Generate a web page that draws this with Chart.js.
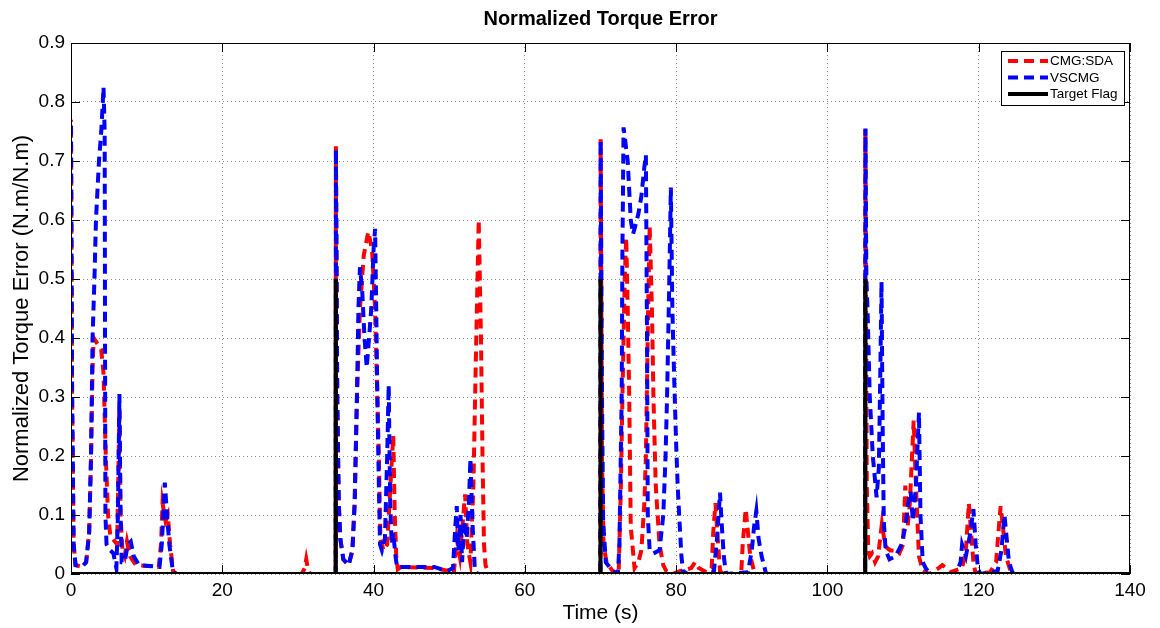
<!DOCTYPE html>
<html>
<head>
<meta charset="utf-8">
<title>Normalized Torque Error</title>
<script src="https://cdn.jsdelivr.net/npm/chart.js@4.4.1/dist/chart.umd.min.js"></script>
<style>
    html, body { margin: 0; padding: 0; background: #fff; }
    #wrap { width: 1160px; height: 628px; }
</style>
</head>
<body>
<div id="wrap"><canvas id="torqueChart" width="1160" height="628"></canvas></div>
<script>
// CMG:SDA - time (s) and normalized error
const sdaTime = [
    0, 0.15, 0.35, 0.6, 1.5, 2.0, 2.4, 2.65, 2.85, 3.0, 3.5, 4.0, 4.3, 4.6, 4.9, 5.2, 5.8, 6.1, 6.3, 6.4,
    6.55, 6.8, 7.1, 7.4, 7.8, 8.6, 11.6, 11.9, 12.1, 12.5, 12.8, 13.1, 13.5, 14, 30.5, 30.9, 31.1, 31.3, 31.6,
    34.98, 35.02, 35.2, 35.4, 35.6, 36.0, 36.7, 37.2, 37.5, 37.8, 38.2, 38.7, 39.3, 39.8, 40.2, 40.4, 40.7,
    40.9, 41.3, 41.8, 42.1, 42.6, 42.8, 43.0, 43.2, 43.6, 48, 50, 50.6, 51.0, 51.4, 51.8, 52.1, 52.4, 52.8,
    53.2, 53.5, 53.9, 54.2, 54.4, 54.6, 54.8, 55.2,
    69.98, 70.02, 70.2, 70.4, 70.8, 71.6, 72.4, 72.7, 72.9, 73.2, 73.4, 73.6, 73.8, 74.0, 74.5, 75.0, 75.4,
    75.8, 76.0, 76.3, 76.5, 76.8, 77.0, 77.3, 77.8, 78.3, 78.7, 79.5, 80.5, 82.0, 82.5, 83.0, 84.0, 84.7,
    84.9, 85.2, 85.5, 85.8, 86.2, 88.6, 88.8, 89.2, 89.5, 89.8, 90.4,
    104.98, 105.02, 105.2, 105.4, 105.6, 105.9, 106.3, 106.7, 107.2, 107.5, 107.8, 108.3, 108.8, 109.5,
    110.0, 110.3, 110.6, 110.9, 111.4, 111.7, 112.1, 112.6, 113.5, 114.7, 115.2, 115.7, 116.3, 117.8,
    118.3, 118.7, 119.0, 119.3, 119.6, 121.5, 122.3, 122.6, 122.9, 123.2, 123.6, 124.2, 124.6, 140
];
const sdaError = [
    0.77, 0.3, 0.05, 0.015, 0.012, 0.02, 0.07, 0.2, 0.35, 0.40, 0.39, 0.38, 0.34, 0.2, 0.1, 0.065, 0.055, 0.05, 0.2, 0.28,
    0.1, 0.04, 0.03, 0.055, 0.03, 0.015, 0.012, 0.05, 0.12, 0.09, 0.1, 0.05, 0.005, 0, 0, 0.01, 0.025, 0.01, 0,
    0, 0.725, 0.3, 0.12, 0.06, 0.025, 0.015, 0.04, 0.12, 0.3, 0.45, 0.54, 0.58, 0.55, 0.45, 0.35, 0.2,
    0.06, 0.04, 0.05, 0.12, 0.235, 0.1, 0.03, 0.008, 0.012, 0.01, 0.005, 0, 0.06, 0.03, 0.09, 0.135, 0.05, 0.02,
    0.15, 0.35, 0.6, 0.4, 0.2, 0.05, 0.015, 0,
    0, 0.737, 0.2, 0.05, 0.02, 0.005, 0, 0.15, 0.3, 0.5, 0.57, 0.45, 0.3, 0.08, 0.01, 0.02, 0.04,
    0.12, 0.2, 0.45, 0.59, 0.45, 0.3, 0.15, 0.05, 0.015, 0.005, 0, 0.005, 0.01, 0.02, 0.01, 0.003, 0.01,
    0.07, 0.12, 0.06, 0.005, 0, 0, 0.05, 0.11, 0.07, 0.03, 0,
    0, 0.754, 0.15, 0.04, 0.03, 0.035, 0.02, 0.03, 0.085, 0.06, 0.045, 0.04, 0.04, 0.035,
    0.05, 0.15, 0.08, 0.12, 0.26, 0.15, 0.03, 0.005, 0, 0.01, 0.015, 0.01, 0.003, 0.01,
    0.04, 0.12, 0.07, 0.02, 0, 0.003, 0.02, 0.07, 0.115, 0.08, 0.03, 0.005, 0, 0
];

// VSCMG - time (s) and normalized error
const vscmgTime = [
    0, 0.15, 0.35, 0.6, 1.5, 2.0, 2.4, 2.65, 2.85, 3.1, 3.3, 3.7, 4.0, 4.3, 4.45, 4.5, 4.55, 4.7, 5.2, 5.6,
    6.0, 6.2, 6.4, 6.55, 6.7, 7.1, 7.5, 7.9, 8.3, 9.0, 11.7, 12.0, 12.2, 12.4, 12.7, 13.0, 13.5, 14,
    34.98, 35.02, 35.2, 35.4, 35.6, 36.0, 36.7, 37.2, 37.5, 37.8, 38.0, 38.2, 38.5, 38.8, 39.1, 39.4, 39.7,
    40.0, 40.2, 40.35, 40.5, 40.7, 40.85, 41.1, 41.5, 41.8, 42.0, 42.2, 42.4, 42.6, 42.9, 43.1, 48, 49.7,
    50.5, 50.8, 51.0, 51.2, 51.5, 51.7, 52.0, 52.3, 52.6, 52.8, 53.1, 53.4, 53.8,
    69.98, 70.02, 70.2, 70.35, 70.7, 71.6, 72.3, 72.5, 72.8, 72.9, 73.05, 73.4, 73.6, 74.0, 74.3, 74.6, 75.0,
    75.4, 75.8, 76.0, 76.15, 76.25, 76.5, 77.0, 77.8, 78.3, 78.6, 78.8, 79.1, 79.3, 79.5, 79.7, 80.0, 80.2,
    80.4, 80.7, 80.9, 81.5, 84.5, 85.0, 85.4, 85.8, 86.0, 86.3, 86.6, 89.5, 90.0, 90.3, 90.6, 90.9, 91.3, 91.9,
    104.98, 105.02, 105.15, 105.3, 105.6, 106.0, 106.5, 106.8, 107.0, 107.15, 107.3, 107.45, 107.7, 108.2,
    109.0, 109.8, 110.3, 110.7, 111.0, 111.3, 111.7, 112.1, 112.3, 112.6, 113.0, 113.6, 117.0, 117.6, 117.8,
    118.3, 118.9, 119.3, 119.6, 119.9, 120.2, 122.5, 123.0, 123.4, 123.7, 124.0, 124.4, 124.6, 140
];
const vscmgError = [
    0.76, 0.3, 0.05, 0.015, 0.013, 0.02, 0.07, 0.2, 0.4, 0.5, 0.6, 0.7, 0.75, 0.825, 0.75, 0.4, 0.1, 0.05, 0.04, 0.035,
    0.01, 0.1, 0.305, 0.1, 0.02, 0.02, 0.05, 0.055, 0.03, 0.015, 0.012, 0.05, 0.1, 0.155, 0.1, 0.05, 0.002, 0,
    0, 0.72, 0.3, 0.12, 0.06, 0.025, 0.015, 0.04, 0.12, 0.3, 0.45, 0.52, 0.48, 0.4, 0.35, 0.4, 0.45,
    0.55, 0.585, 0.45, 0.3, 0.15, 0.05, 0.04, 0.06, 0.2, 0.32, 0.12, 0.05, 0.07, 0.03, 0.012, 0.012, 0.005,
    0.01, 0.08, 0.115, 0.04, 0.1, 0.02, 0.09, 0.06, 0.12, 0.195, 0.08, 0.005, 0,
    0, 0.735, 0.3, 0.09, 0.02, 0.005, 0, 0.05, 0.3, 0.55, 0.757, 0.72, 0.7, 0.6, 0.576, 0.59, 0.61,
    0.64, 0.69, 0.71, 0.4, 0.1, 0.04, 0.035, 0.04, 0.1, 0.2, 0.3, 0.5, 0.655, 0.45, 0.35, 0.22, 0.15,
    0.1, 0.03, 0.005, 0, 0, 0.005, 0.06, 0.138, 0.09, 0.03, 0, 0.003, 0.04, 0.08, 0.107, 0.06, 0.03, 0,
    0, 0.755, 0.5, 0.45, 0.3, 0.2, 0.13, 0.18, 0.35, 0.495, 0.25, 0.09, 0.04, 0.025,
    0.03, 0.05, 0.08, 0.12, 0.14, 0.09, 0.15, 0.274, 0.1, 0.02, 0.01, 0, 0, 0.02, 0.05,
    0.03, 0.07, 0.11, 0.05, 0.01, 0, 0.005, 0.04, 0.1, 0.06, 0.02, 0.005, 0, 0
];

// Target flag pulses
const flagTime = [0, 35, 35, 35, 70, 70, 70, 105, 105, 105, 140];
const flagValue = [0, 0, 0.5, 0, 0, 0.5, 0, 0, 0.5, 0, 0];

const seriesNames = ['CMG:SDA', 'VSCMG', 'Target Flag'];
const chartTitle = 'Normalized Torque Error';
const xTicks = [0, 20, 40, 60, 80, 100, 120, 140];
const yTicks = [0, 0.1, 0.2, 0.3, 0.4, 0.5, 0.6, 0.7, 0.8, 0.9];
const yTickLabels = ['0', '0.1', '0.2', '0.3', '0.4', '0.5', '0.6', '0.7', '0.8', '0.9'];

const FONT = 'Arial, "Liberation Sans", Helvetica, sans-serif';

function toPoints(xs, ys) {
    return xs.map((x, i) => ({ x: x, y: ys[i] }));
}

// matlab style frame: title over the axes, full box, inward ticks, boxed legend
const matlabFrame = {
    id: 'matlabFrame',
    afterDraw(chart) {
        const { ctx, chartArea: a, scales } = chart;
        ctx.save();

        ctx.fillStyle = '#000';
        ctx.font = 'bold 20px ' + FONT;
        ctx.textAlign = 'center';
        ctx.textBaseline = 'middle';
        ctx.fillText(chartTitle, (a.left + a.right) / 2, 19);

        ctx.strokeStyle = '#000';
        ctx.lineWidth = 1;
        ctx.setLineDash([]);
        ctx.strokeRect(a.left + 0.5, a.top + 0.5, a.right - a.left - 1, a.bottom - a.top - 1);

        const len = 9;
        ctx.beginPath();
        xTicks.forEach(v => {
            const px = Math.round(scales.x.getPixelForValue(v)) + 0.5;
            ctx.moveTo(px, a.bottom); ctx.lineTo(px, a.bottom - len);
            ctx.moveTo(px, a.top); ctx.lineTo(px, a.top + len);
        });
        yTicks.forEach(v => {
            const py = Math.round(scales.y.getPixelForValue(v)) + 0.5;
            ctx.moveTo(a.left, py); ctx.lineTo(a.left + len, py);
            ctx.moveTo(a.right, py); ctx.lineTo(a.right - len, py);
        });
        ctx.stroke();

        // legend
        const box = { x: 1001, y: 51, w: 123, h: 54 };
        ctx.fillStyle = '#fff';
        ctx.fillRect(box.x, box.y, box.w, box.h);
        ctx.strokeRect(box.x + 0.5, box.y + 0.5, box.w, box.h);
        ctx.font = '13.5px ' + FONT;
        ctx.textAlign = 'left';
        ctx.textBaseline = 'middle';
        const rows = [61, 77.5, 94];
        chart.data.datasets.forEach((ds, i) => {
            ctx.beginPath();
            ctx.strokeStyle = ds.borderColor;
            ctx.lineWidth = ds.borderWidth;
            ctx.setLineDash(ds.borderDash || []);
            ctx.moveTo(1008, rows[i]);
            ctx.lineTo(1048, rows[i]);
            ctx.stroke();
            ctx.fillStyle = '#000';
            ctx.fillText(seriesNames[i], 1050, rows[i] + 0.5);
        });
        ctx.restore();
    }
};

class TorqueErrorChart {
    constructor(canvasId) {
        this.ctx = document.getElementById(canvasId).getContext('2d');
        this.chart = null;
    }

    buildDatasets() {
        return [
            {
                label: seriesNames[0],
                data: toPoints(sdaTime, sdaError),
                borderColor: '#ff0000',
                borderWidth: 4,
                borderDash: [10, 6],
                borderDashOffset: 8,
                order: 3
            },
            {
                label: seriesNames[1],
                data: toPoints(vscmgTime, vscmgError),
                borderColor: '#0000ff',
                borderWidth: 4,
                borderDash: [10, 6],
                order: 2
            },
            {
                label: seriesNames[2],
                data: toPoints(flagTime, flagValue),
                borderColor: '#000000',
                borderWidth: 4,
                order: 1
            }
        ];
    }

    init() {
        this.chart = new Chart(this.ctx, {
            type: 'line',
            data: { datasets: this.buildDatasets() },
            options: {
                responsive: false,
                animation: false,
                devicePixelRatio: 1,
                elements: {
                    point: { radius: 0 },
                    line: { tension: 0, fill: false }
                },
                layout: { padding: { left: 0, right: 30, top: 43, bottom: 0 } },
                plugins: {
                    legend: { display: false },
                    tooltip: { enabled: false },
                    title: { display: false }
                },
                scales: {
                    x: {
                        type: 'linear',
                        min: 0,
                        max: 140,
                        afterBuildTicks: s => { s.ticks = xTicks.map(v => ({ value: v })); },
                        afterFit: s => { s.height = 54; },
                        ticks: {
                            color: '#000',
                            font: { family: FONT, size: 19 },
                            padding: 5,
                            maxRotation: 0
                        },
                        grid: { color: 'rgba(0,0,0,0.45)', lineWidth: 1, drawTicks: false },
                        border: { display: false, dash: [1, 3] },
                        title: {
                            display: true,
                            text: 'Time (s)',
                            color: '#000',
                            font: { family: FONT, size: 21 },
                            padding: { top: 0, bottom: 2 }
                        }
                    },
                    y: {
                        type: 'linear',
                        min: 0,
                        max: 0.9,
                        afterBuildTicks: s => { s.ticks = yTicks.map(v => ({ value: v })); },
                        afterFit: s => { s.width = 71; },
                        ticks: {
                            color: '#000',
                            font: { family: FONT, size: 19 },
                            padding: 6,
                            callback: (v, i) => yTickLabels[i]
                        },
                        grid: { color: 'rgba(0,0,0,0.45)', lineWidth: 1, drawTicks: false },
                        border: { display: false, dash: [1, 3] },
                        title: {
                            display: true,
                            text: 'Normalized Torque Error (N.m/N.m)',
                            color: '#000',
                            font: { family: FONT, size: 22 },
                            padding: { top: 9, bottom: 0 }
                        }
                    }
                }
            },
            plugins: [matlabFrame]
        });
    }
}

new TorqueErrorChart('torqueChart').init();
</script>
</body>
</html>
